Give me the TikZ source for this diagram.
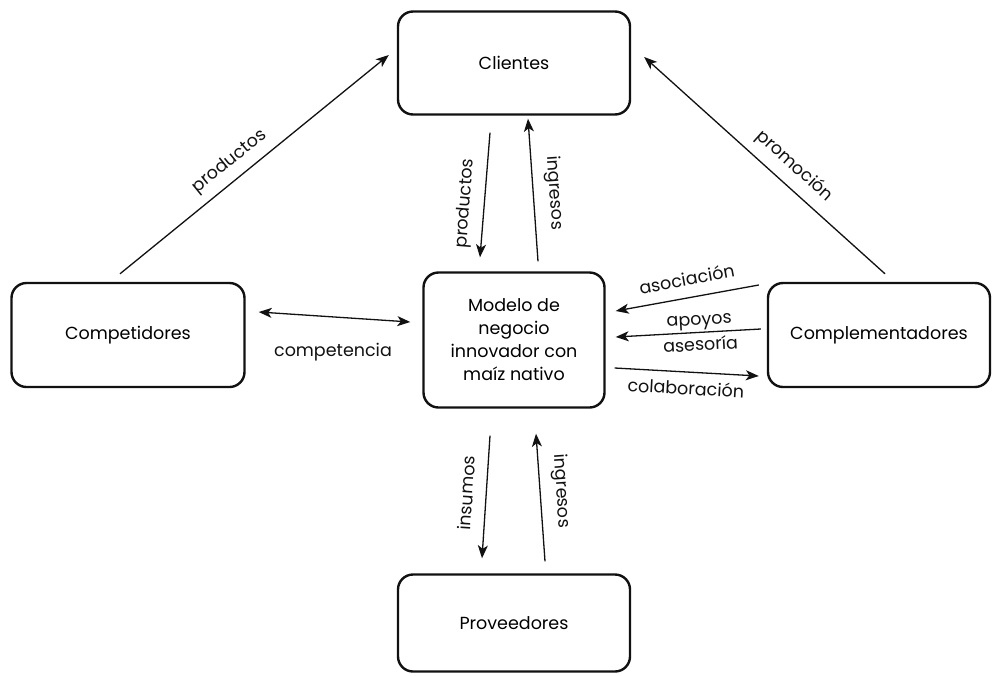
\documentclass[tikz,border=0pt]{standalone}
\usepackage{fontspec}
\setmainfont{Poppins}
\usetikzlibrary{arrows.meta}
\definecolor{ink}{HTML}{111111}
\tikzset{
  box/.style={draw=ink,line width=2.4pt,rounded corners=15pt,fill=white,align=center,inner sep=4pt,font=\fontsize{17.5}{23}\selectfont},
  ar/.style={-{Stealth[length=13pt,width=10pt,inset=3.5pt]},line width=1.3pt,draw=ink},
  dar/.style={{Stealth[length=13pt,width=10pt,inset=3.5pt]}-{Stealth[length=13pt,width=10pt,inset=3.5pt]},line width=1.3pt,draw=ink},
  lbl/.style={font=\fontsize{17.5}{19}\selectfont,text=ink},
}
\begin{document}
\begin{tikzpicture}[x=1pt,y=-1pt]
  \useasboundingbox (0,0) rectangle (995,675);
  % actors
  \node[box,minimum width=232pt,minimum height=103pt] (cli) at (514,63) {Clientes};
  \node[box,minimum width=233pt,minimum height=104pt] (comp) at (128,335) {Competidores};
  \node[box,minimum width=181pt,minimum height=135pt] (mod) at (514,340)
       {Modelo de\\negocio\\innovador con\\maíz nativo};
  \node[box,minimum width=222pt,minimum height=104pt] (compl) at (879,335) {Complementadores};
  \node[box,minimum width=232pt,minimum height=97pt] (prov) at (514,623) {Proveedores};
  % flows towards clients
  \draw[ar] ([shift={(-8,-8)}]comp.north) -- node[lbl,sloped,above=5pt,pos=0.45]{productos} ([shift={(-8,-8)}]cli.west);
  \draw[ar] ([shift={(6,-8)}]compl.north) -- node[lbl,sloped,above=6pt,pos=0.43]{promoción} ([shift={(13,-6)}]cli.east);
  \draw[ar] ([shift={(-24,17)}]cli.south) -- node[lbl,sloped,above=6pt,pos=0.58]{productos} ([shift={(-34,-14)}]mod.north);
  \draw[ar] ([shift={(24,-10)}]mod.north) -- node[lbl,sloped,above=8pt,pos=0.47]{ingresos} ([shift={(14,3)}]cli.south);
  % competitors
  \draw[dar] ([shift={(13,-23)}]comp.east) -- ([shift={(-12,-18)}]mod.west);
  \node[lbl] (cmp) at (333,352) {competencia};
  % complementors
  \draw[ar] ([shift={(-8,-50)}]compl.west) -- node[lbl,sloped,above=8pt,pos=0.48]{asociación} ([shift={(10,-29)}]mod.east);
  \draw[ar] ([shift={(-6,-6)}]compl.west) -- node[lbl,sloped,above=1pt,pos=0.42,inner sep=1pt]{apoyos}
       node[lbl,sloped,below=3pt,pos=0.42,inner sep=1pt]{asesoría} ([shift={(10,-3)}]mod.east);
  \draw[ar] ([shift={(9,28)}]mod.east) -- node[lbl,sloped,below=5pt,pos=0.5]{colaboración} ([shift={(-8,41)}]compl.west);
  % suppliers
  \draw[ar] ([shift={(-24,27)}]mod.south) -- node[lbl,sloped,above=9pt,pos=0.48]{insumos} ([shift={(-32,-15)}]prov.north);
  \draw[ar] ([shift={(31,-12)}]prov.north) -- node[lbl,sloped,above=8pt,pos=0.54]{ingresos} ([shift={(22,25)}]mod.south);
\end{tikzpicture}
\end{document}
